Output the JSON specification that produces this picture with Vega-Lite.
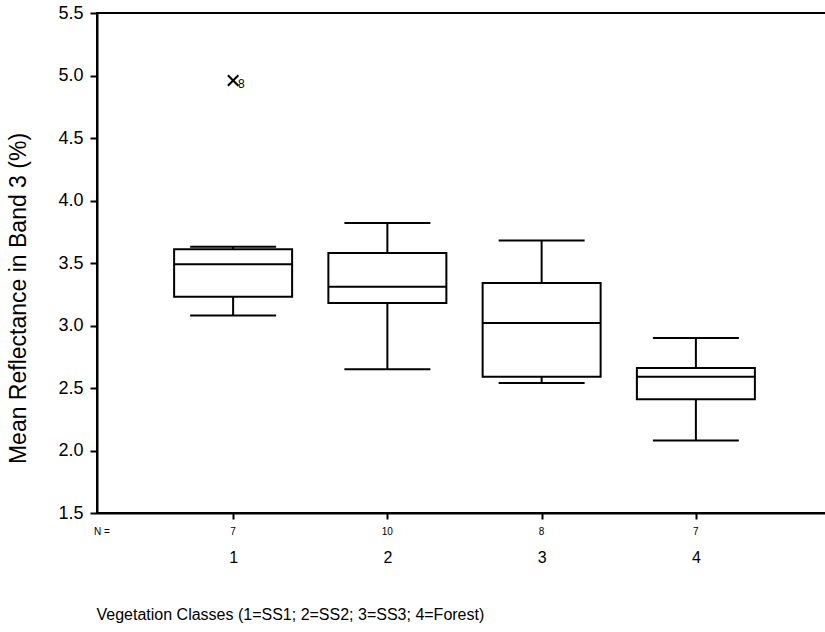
{
  "$schema": "https://vega.github.io/schema/vega-lite/v6.json",
  "width": 735,
  "height": 500,
  "autosize": "none",
  "padding": {"left": 97, "top": 13, "right": 0, "bottom": 119},
  "background": "white",
  "config": {
    "view": {"stroke": "black", "strokeWidth": 2},
    "font": "Liberation Sans",
    "axis": {"grid": false, "domainColor": "black", "tickColor": "black", "labelColor": "black", "titleColor": "black", "titleFontWeight": "normal"}
  },
  "datasets": {
    "boxes": [
      {"cls": 1, "lower": 3.08, "q1": 3.23, "median": 3.49, "q3": 3.61, "upper": 3.63, "n": "7"},
      {"cls": 2, "lower": 2.65, "q1": 3.18, "median": 3.31, "q3": 3.58, "upper": 3.82, "n": "10"},
      {"cls": 3, "lower": 2.54, "q1": 2.59, "median": 3.02, "q3": 3.34, "upper": 3.68, "n": "8"},
      {"cls": 4, "lower": 2.08, "q1": 2.41, "median": 2.59, "q3": 2.66, "upper": 2.90, "n": "7"}
    ],
    "outliers": [
      {"cls": 1, "value": 4.96, "case": "8"}
    ]
  },
  "layer": [
    {
      "data": {"name": "boxes"},
      "mark": {"type": "rule", "color": "black", "strokeWidth": 2},
      "encoding": {
        "x": {"field": "cls", "type": "quantitative", "scale": {"domain": [0.15, 4.85], "nice": false, "zero": false},
          "axis": {"values": [1, 2, 3, 4], "format": "d", "title": "Vegetation Classes (1=SS1; 2=SS2; 3=SS3; 4=Forest)",
            "domainWidth": 2, "tickSize": 6, "tickWidth": 2, "labelFontSize": 16, "labelPadding": 30,
            "labelFont": "Liberation Sans",
            "titleFont": "Liberation Sans", "titleFontSize": 16,
            "titleAnchor": "start", "titleAlign": "left", "titleX": -1, "titleY": 106, "titleBaseline": "alphabetic"}},
        "y": {"field": "lower", "type": "quantitative", "scale": {"domain": [1.5, 5.5], "nice": false, "zero": false},
          "axis": {"values": [1.5, 2, 2.5, 3, 3.5, 4, 4.5, 5, 5.5], "format": ".1f", "title": "Mean Reflectance in Band 3 (%)",
            "domainWidth": 2, "tickSize": 7, "tickWidth": 2, "labelFontSize": 18, "labelPadding": 7,
            "titleFontSize": 23, "titleX": -79, "titleY": 285, "titleAlign": "center", "titleBaseline": "middle", "titleAngle": -90}},
        "y2": {"field": "q1"}
      }
    },
    {
      "data": {"name": "boxes"},
      "mark": {"type": "rule", "color": "black", "strokeWidth": 2},
      "encoding": {
        "x": {"field": "cls", "type": "quantitative"},
        "y": {"field": "q3", "type": "quantitative"},
        "y2": {"field": "upper"}
      }
    },
    {
      "data": {"name": "boxes"},
      "mark": {"type": "bar", "size": 118, "fill": "white", "stroke": "black", "strokeWidth": 2},
      "encoding": {
        "x": {"field": "cls", "type": "quantitative"},
        "y": {"field": "q1", "type": "quantitative"},
        "y2": {"field": "q3"}
      }
    },
    {
      "data": {"name": "boxes"},
      "mark": {"type": "tick", "orient": "horizontal", "size": 118, "thickness": 2, "color": "black", "opacity": 1},
      "encoding": {
        "x": {"field": "cls", "type": "quantitative"},
        "y": {"field": "median", "type": "quantitative"}
      }
    },
    {
      "data": {"name": "boxes"},
      "mark": {"type": "tick", "orient": "horizontal", "size": 86, "thickness": 2, "color": "black", "opacity": 1},
      "encoding": {
        "x": {"field": "cls", "type": "quantitative"},
        "y": {"field": "lower", "type": "quantitative"}
      }
    },
    {
      "data": {"name": "boxes"},
      "mark": {"type": "tick", "orient": "horizontal", "size": 86, "thickness": 2, "color": "black", "opacity": 1},
      "encoding": {
        "x": {"field": "cls", "type": "quantitative"},
        "y": {"field": "upper", "type": "quantitative"}
      }
    },
    {
      "data": {"name": "boxes"},
      "mark": {"type": "text", "fontSize": 10, "dy": 19, "baseline": "middle", "align": "center", "font": "Liberation Sans", "color": "black"},
      "encoding": {
        "x": {"field": "cls", "type": "quantitative"},
        "y": {"datum": 1.5, "type": "quantitative"},
        "text": {"field": "n"}
      }
    },
    {
      "data": {"values": [{"label": "N ="}]},
      "mark": {"type": "text", "fontSize": 10, "dy": 19, "baseline": "middle", "align": "center", "font": "Liberation Sans", "color": "black"},
      "encoding": {
        "x": {"datum": 0.15, "type": "quantitative"},
        "y": {"datum": 1.5, "type": "quantitative"},
        "text": {"field": "label"}
      }
    },
    {
      "data": {"name": "outliers"},
      "mark": {"type": "point", "shape": "M-1,-1L1,1M-1,1L1,-1", "size": 110, "filled": false, "stroke": "black", "strokeWidth": 2, "opacity": 1},
      "encoding": {
        "x": {"field": "cls", "type": "quantitative"},
        "y": {"field": "value", "type": "quantitative"}
      }
    },
    {
      "data": {"name": "outliers"},
      "mark": {"type": "text", "fontSize": 12, "dx": 5, "dy": 3, "align": "left", "baseline": "middle", "color": "black"},
      "encoding": {
        "x": {"field": "cls", "type": "quantitative"},
        "y": {"field": "value", "type": "quantitative"},
        "text": {"field": "case"}
      }
    }
  ]
}
